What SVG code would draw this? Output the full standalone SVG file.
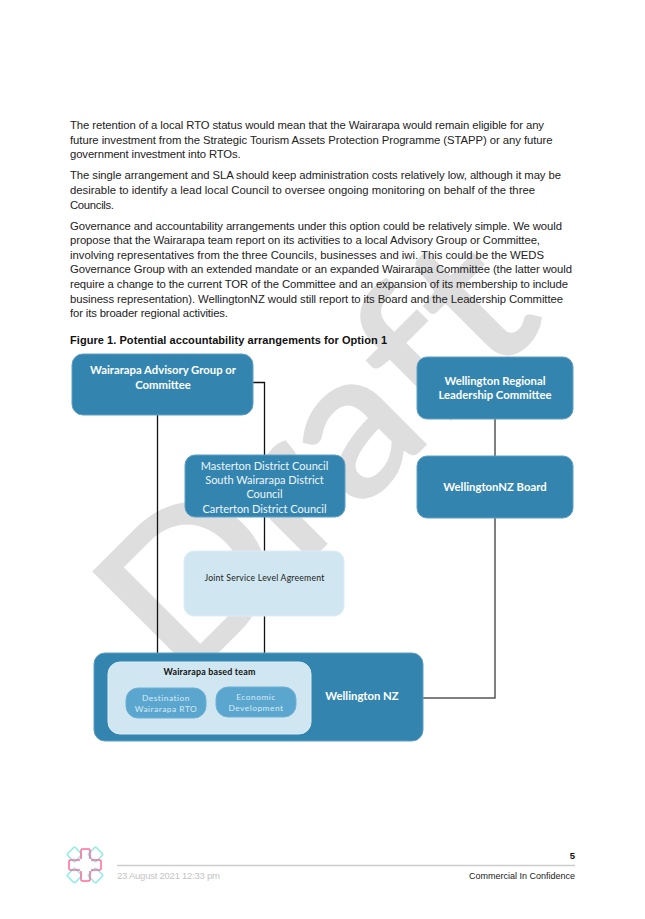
<svg xmlns="http://www.w3.org/2000/svg" width="645" height="919" viewBox="0 0 645 919">
<style>
.b{font:11.3px "Liberation Sans",Arial,sans-serif;fill:#222}
.n{fill:#3385b0;stroke:#5f9fc6;stroke-width:1}
.l{fill:#d0e6f0;stroke:#dcedf5;stroke-width:1}
.p{fill:#5ba6ce;stroke:#6fb1d4;stroke-width:1}
.t{font:700 11.3px Lato,"Noto Sans",sans-serif;fill:#fff;text-anchor:middle}
.c{font:11px Lato,"Noto Sans",sans-serif;fill:#eef6fa;text-anchor:middle}
.s{font:8.400px Lato,"Noto Sans",sans-serif;fill:#d7ebf5;text-anchor:middle;letter-spacing:.5px}
.k{fill:none;stroke:#111;stroke-width:1.3}
.g{fill:none;stroke:#555;stroke-width:1.5}
.cy{fill:none;stroke:#8aeee4;stroke-width:1.500}
</style>
<rect width="645" height="919" fill="#fff"/>
<text transform="translate(182 687) rotate(-45) scale(1.1 1)" font-family="Lato,sans-serif" font-size="200" letter-spacing="2" fill="#dedede" stroke="#dedede" stroke-width="3.500">Draft</text>
<g id="body">
<text class="b" x="70" y="129" textLength="474">The retention of a local RTO status would mean that the Wairarapa would remain eligible for any</text>
<text class="b" x="70" y="143.500" textLength="482.600">future investment from the Strategic Tourism Assets Protection Programme (STAPP) or any future</text>
<text class="b" x="70" y="158" textLength="170.700">government investment into RTOs.</text>
<text class="b" x="70" y="179" textLength="491">The single arrangement and SLA should keep administration costs relatively low, although it may be</text>
<text class="b" x="70" y="194" textLength="465">desirable to identify a lead local Council to oversee ongoing monitoring on behalf of the three</text>
<text class="b" x="70" y="209" textLength="44">Councils.</text>
<text class="b" x="70" y="229.500" textLength="492">Governance and accountability arrangements under this option could be relatively simple. We would</text>
<text class="b" x="70" y="244" textLength="470">propose that the Wairarapa team report on its activities to a local Advisory Group or Committee,</text>
<text class="b" x="70" y="258.500" textLength="474">involving representatives from the three Councils, businesses and iwi. This could be the WEDS</text>
<text class="b" x="70" y="273" textLength="502">Governance Group with an extended mandate or an expanded Wairarapa Committee (the latter would</text>
<text class="b" x="70" y="288" textLength="498">require a change to the current TOR of the Committee and an expansion of its membership to include</text>
<text class="b" x="70" y="302.500" textLength="493">business representation). WellingtonNZ would still report to its Board and the Leadership Committee</text>
<text class="b" x="70" y="316.500" textLength="158">for its broader regional activities.</text>
<text x="70" y="344" font-family="Liberation Sans,Arial,sans-serif" font-size="11" font-weight="700" fill="#111" textLength="317">Figure 1. Potential accountability arrangements for Option 1</text>
</g>
<g id="connectors">
<path class="k" d="M157.500 413V662"/>
<path class="k" d="M253 382.500H264.500V455M264.500 517V551M264.500 616V653"/>
<path class="g" d="M495 419V456M495 518V698H423"/>
</g>
<g id="advisory"><rect class="n" x="72" y="354" width="181" height="61" rx="11"/><text class="t" x="163" y="374">Wairarapa Advisory Group or</text><text class="t" x="163" y="389">Committee</text></g>
<g id="councils"><rect class="n" x="185" y="455" width="160" height="62" rx="10"/><text class="c" x="264.500" y="470">Masterton District Council</text><text class="c" x="264.500" y="484">South Wairarapa District</text><text class="c" x="264.500" y="498">Council</text><text class="c" x="264.500" y="513">Carterton District Council</text></g>
<g id="sla"><rect class="l" x="184" y="551" width="160" height="65" rx="10"/><text x="264.500" y="581" text-anchor="middle" font-family="Lato,sans-serif" font-size="8.700" fill="#222" letter-spacing=".2">Joint Service Level Agreement</text></g>
<g id="regional"><rect class="n" x="417" y="357" width="156" height="62" rx="10"/><text class="t" x="495" y="385">Wellington Regional</text><text class="t" x="495" y="399">Leadership Committee</text></g>
<g id="board"><rect class="n" x="417" y="456" width="156" height="62" rx="10"/><text class="t" x="495" y="491">WellingtonNZ Board</text></g>
<g id="wnz"><rect class="n" x="94" y="653" width="329" height="88" rx="11"/><text class="t" x="362" y="700">Wellington NZ</text></g>
<g id="team"><rect class="l" x="108" y="662" width="203" height="72" rx="12"/><text x="209.500" y="675" text-anchor="middle" font-family="Lato,sans-serif" font-size="8.900" font-weight="700" fill="#111" letter-spacing=".2">Wairarapa based team</text></g>
<g id="rto"><rect class="p" x="126" y="688" width="80" height="30" rx="12"/><text class="s" x="166" y="701">Destination</text><text class="s" x="166" y="712">Wairarapa RTO</text></g>
<g id="econ"><rect class="p" x="216" y="687" width="80" height="30" rx="12"/><text class="s" x="256" y="700">Economic</text><text class="s" x="256" y="711">Development</text></g>
<g id="logo">
<rect class="cy" x="69" y="849" width="11" height="11" rx="1.500" transform="rotate(45 74.500 854.500)"/>
<rect class="cy" x="90" y="849" width="11" height="11" rx="1.500" transform="rotate(45 95.500 854.500)"/>
<rect class="cy" x="69" y="870" width="11" height="11" rx="1.500" transform="rotate(45 74.500 875.500)"/>
<rect class="cy" x="90" y="870" width="11" height="11" rx="1.500" transform="rotate(45 95.500 875.500)"/>
<path d="M81 859V850.500Q81 849 82.500 849H88.500Q90 849 90 850.500V859M91 860H99.500Q101 860 101 861.500V868.500Q101 870 99.500 870H91M90 871V879.500Q90 881 88.500 881H82.500Q81 881 81 879.500V871M80 870H70.500Q69 870 69 868.500V861.500Q69 860 70.500 860H80" fill="none" stroke="#ff6a98" stroke-width="1.500"/>
</g>
<g id="footer">
<path d="M117 865.500H575" stroke="#ccc" stroke-width="1.500" fill="none"/>
<text x="117" y="879" font-family="Liberation Sans,sans-serif" font-size="9.500" fill="#c4c4c4" textLength="103">23 August 2021 12:33 pm</text>
<text x="575" y="859" text-anchor="end" font-family="Liberation Sans,sans-serif" font-size="9.500" font-weight="700" fill="#111">5</text>
<text x="575" y="879" text-anchor="end" font-family="Liberation Sans,sans-serif" font-size="9" fill="#222">Commercial In Confidence</text>
</g>
</svg>
